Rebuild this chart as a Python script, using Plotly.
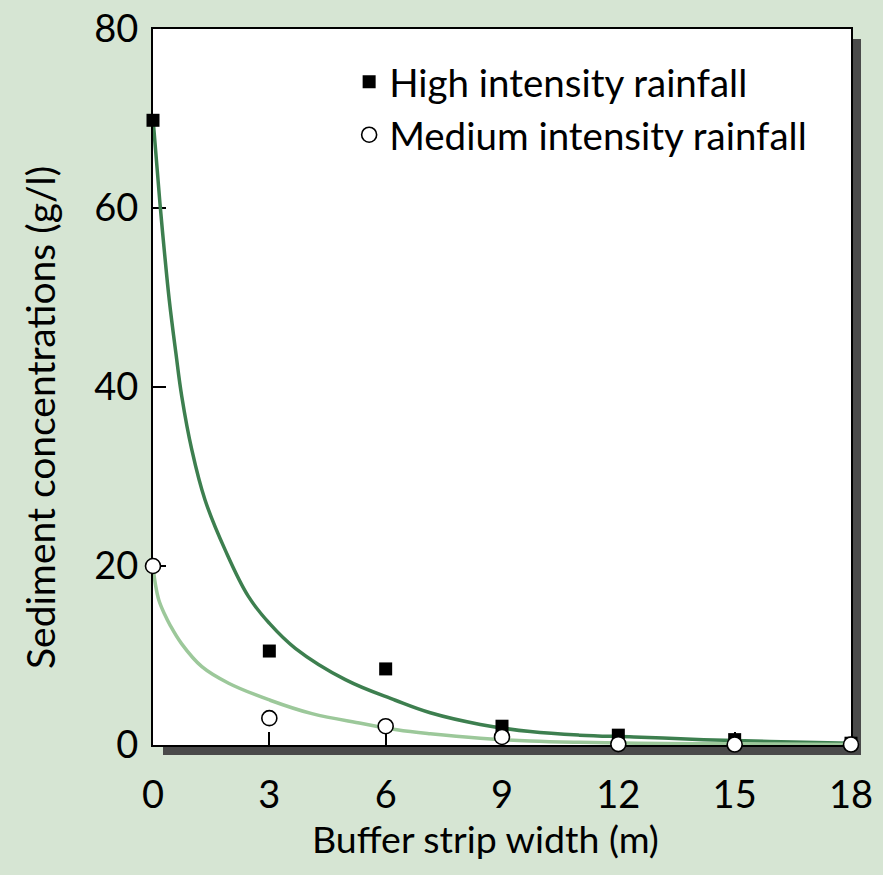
import plotly.graph_objects as go

# Observed data points
widths = [0, 3, 6, 9, 12, 15, 18]
high_conc = [69.8, 10.5, 8.5, 2.1, 1.1, 0.6, 0.2]
medium_conc = [20.0, 3.0, 2.1, 0.9, 0.1, 0.05, 0.05]

# Fitted curves
high_fit_x = [0, 0.18, 0.29, 0.42, 0.59, 0.74, 1.0, 1.34, 1.86, 2.46, 3.0, 3.67, 4.96, 6.25, 7.15, 8.44, 9.73, 11.0, 12.4, 14.2, 15.9, 18.0]
high_fit_y = [70, 60.5, 55.3, 49.7, 43.8, 39.0, 33.0, 27.4, 21.8, 16.6, 13.6, 10.8, 7.3, 5.0, 3.6, 2.3, 1.5, 1.1, 0.9, 0.6, 0.4, 0.2]
med_fit_x = [0, 0.06, 0.15, 0.3, 0.44, 0.74, 1.26, 1.95, 3.02, 4.1, 5.39, 6.29, 7.15, 8.44, 9.73, 11.0, 12.5, 14.0, 16.0, 18.0]
med_fit_y = [20, 18.0, 16.2, 14.6, 13.4, 11.3, 8.75, 6.9, 5.0, 3.5, 2.4, 1.7, 1.25, 0.75, 0.45, 0.3, 0.2, 0.15, 0.1, 0.05]

x_ticks = [0, 3, 6, 9, 12, 15, 18]
y_ticks = [0, 20, 40, 60, 80]

BG = "#d6e5d3"
DARK = "#3d7f4f"
LIGHT = "#9cc89a"
FONT = "Lato"

fig = go.Figure()
fig.add_trace(go.Scatter(x=high_fit_x, y=high_fit_y, mode="lines",
                         line=dict(color=DARK, width=3.5, shape="spline", smoothing=1.1),
                         showlegend=False, hoverinfo="skip", cliponaxis=False))
fig.add_trace(go.Scatter(x=med_fit_x, y=med_fit_y, mode="lines",
                         line=dict(color=LIGHT, width=3.5, shape="spline", smoothing=1.1),
                         showlegend=False, hoverinfo="skip", cliponaxis=False))
fig.add_trace(go.Scatter(x=widths, y=high_conc, mode="markers", name="High intensity rainfall",
                         marker=dict(symbol="square", color="black", size=13),
                         cliponaxis=False))
fig.add_trace(go.Scatter(x=widths, y=medium_conc, mode="markers", name="Medium intensity rainfall",
                         marker=dict(symbol="circle", color="white", size=15,
                                     line=dict(color="black", width=1.6)),
                         cliponaxis=False))

W, H = 883, 875
L, R, T, B = 153, 32, 29, 130
pw, ph = W - L - R, H - T - B
dx, dy = 10 / pw, 10 / ph

fig.update_layout(
    width=W, height=H,
    margin=dict(l=L, r=R, t=T, b=B, autoexpand=False),
    paper_bgcolor=BG, plot_bgcolor="white",
    font=dict(family=FONT, color="black"),
    legend=dict(x=0.281, y=0.9705, xanchor="left", yanchor="top",
                bgcolor="rgba(0,0,0,0)", font=dict(size=38.5, family=FONT),
                itemwidth=30, tracegroupgap=0),
    shapes=[
        dict(type="rect", xref="paper", yref="paper", x0=1, x1=1 + dx, y0=-dy, y1=1 - dy,
             fillcolor="#4a4a4a", line=dict(width=0), layer="below"),
        dict(type="rect", xref="paper", yref="paper", x0=dx, x1=1 + dx, y0=-dy, y1=0,
             fillcolor="#4a4a4a", line=dict(width=0), layer="below"),
    ],
    annotations=[
        dict(text="Buffer strip width (m)", xref="paper", yref="paper",
             x=(485 - L) / pw, y=-(838 - (T + ph)) / ph, showarrow=False,
             xanchor="center", yanchor="middle", font=dict(size=37.5, family=FONT)),
        dict(text="Sediment concentrations (g/l)", xref="paper", yref="paper",
             x=-(L - 40) / pw, y=1 - (418 - T) / ph, showarrow=False, textangle=-90,
             xanchor="center", yanchor="middle", font=dict(size=39, family=FONT)),
    ],
)

fig.update_xaxes(range=[0, 18], tickvals=x_ticks, ticktext=[str(v) for v in x_ticks],
                 showgrid=False, zeroline=False, showline=True, linecolor="black",
                 linewidth=2, mirror=True, ticks="inside", ticklen=13, tickwidth=1.5,
                 tickcolor="black", tickfont=dict(size=38, family=FONT),
                 ticklabelstandoff=15, layer="below traces", automargin=False)
fig.update_yaxes(range=[0, 80], tickvals=y_ticks, ticktext=[str(v) for v in y_ticks],
                 showgrid=False, zeroline=False, showline=True, linecolor="black",
                 linewidth=2, mirror=True, ticks="inside", ticklen=13, tickwidth=1.5,
                 tickcolor="black", tickfont=dict(size=38, family=FONT),
                 ticklabelstandoff=5, layer="below traces", automargin=False)

fig.write_html("out.html", config={"displayModeBar": False},
               post_script="document.body.style.margin='0';document.body.style.background='%s';" % BG)
